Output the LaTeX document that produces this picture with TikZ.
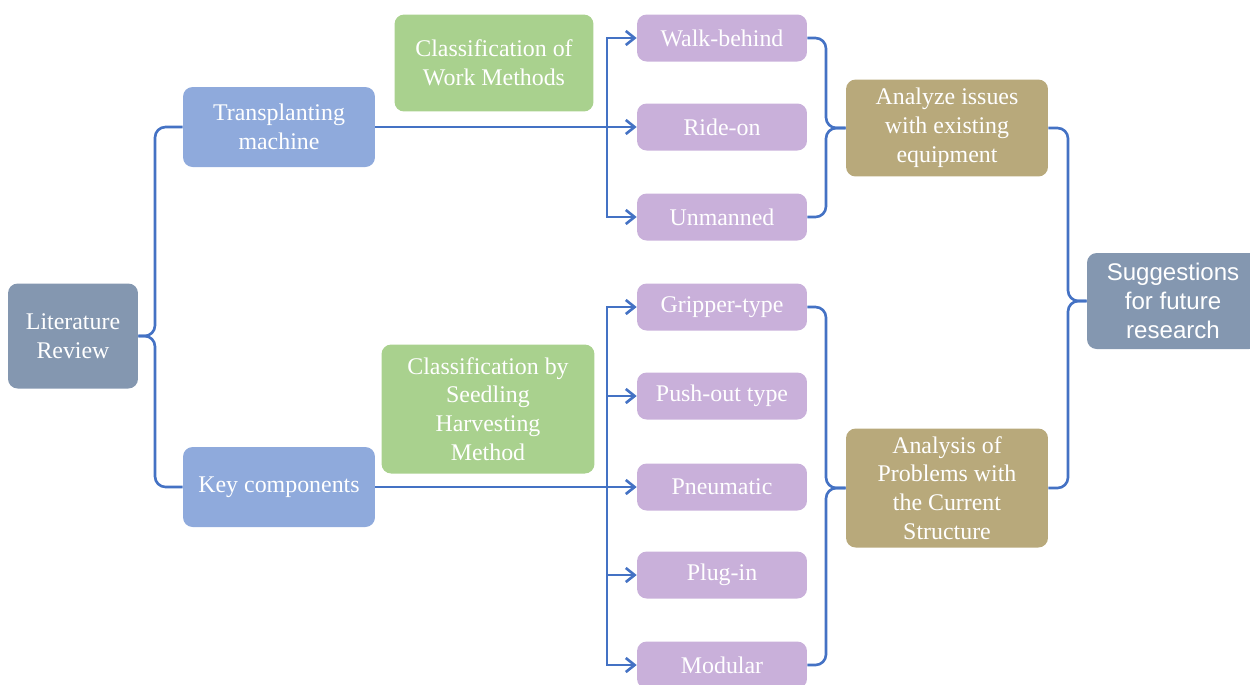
\documentclass[tikz,border=0pt]{standalone}
\usepackage{fontspec}
\setmainfont{Liberation Serif}
\newfontfamily\arialfont{Liberation Sans}
\usetikzlibrary{arrows.meta}

\definecolor{slate}{HTML}{8497B0}
\definecolor{blueb}{HTML}{8FAADC}
\definecolor{greenb}{HTML}{A9D18E}
\definecolor{purpb}{HTML}{C9B0DA}
\definecolor{khaki}{HTML}{B8A97B}
\definecolor{linec}{HTML}{4472C4}

\begin{document}
\begin{tikzpicture}[x=0.02cm, y=-0.02cm,
    box/.style={rounded corners=5.5pt, text=white, align=center, inner sep=2pt,
        font=\fontsize{13.6}{16.4}\selectfont},
    lit/.style={box, fill=slate, minimum width=2.6cm, minimum height=2.1cm},
    topic/.style={box, fill=blueb, minimum width=3.84cm, minimum height=1.6cm},
    cls/.style={box, fill=greenb},
    kind/.style={box, fill=purpb, minimum width=3.4cm, minimum height=0.94cm},
    issue/.style={box, fill=khaki, minimum width=4.04cm},
    link/.style={draw=linec, line width=1.5pt},
    arr/.style={link, -{Straight Barb[length=5pt, width=8pt]}},
    brace/.style={link, rounded corners=6pt}]
    \useasboundingbox (0,0) rectangle (1250,684);

    % 1. left column
    \node[lit] (lr) at (73,336) {Literature\\Review};
    \node[topic] (tm) at (279,127) {Transplanting\\machine};
    \node[topic] (kc) at (279,487) {Key components};

    % 2. classification labels
    \node[cls, minimum width=3.98cm, minimum height=1.94cm] (cwm) at (494,63) {Classification of\\Work Methods};
    \node[cls, minimum width=4.26cm, minimum height=2.58cm] (csh) at (488,409) {Classification by\\Seedling\\Harvesting\\Method};

    % 3. types
    \node[kind] (wb) at (722,38) {Walk-behind};
    \node[kind] (ro) at (722,127) {Ride-on};
    \node[kind] (um) at (722,217) {Unmanned};
    \node[kind] (gt) at (722,307) {Gripper-type};
    \node[kind] (po) at (722,396) {Push-out type};
    \node[kind] (pn) at (722,487) {Pneumatic};
    \node[kind] (pi) at (722,575) {Plug-in};
    \node[kind] (md) at (722,665) {Modular};

    % 4. analysis and suggestions
    \node[issue, minimum height=1.94cm] (ai) at (947,128) {Analyze issues\\with existing\\equipment};
    \node[issue, minimum height=2.38cm] (ap) at (947,488) {Analysis of\\Problems with\\the Current\\Structure};
    \node[box, fill=slate, minimum width=3.44cm, minimum height=1.92cm,
        font=\arialfont\fontsize{13.7}{16.7}\selectfont] (sf) at (1173,301) {Suggestions\\for future\\research};

    % 5. junction points
    \coordinate (b0) at (155,336);
    \coordinate (j1) at (607,127);
    \coordinate (j2) at (607,487);
    \coordinate (b1) at (826,128);
    \coordinate (b2) at (826,488);
    \coordinate (b3) at (1068,301);

    % 6. left brace
    \draw[brace] (lr.east) -- (b0) |- (tm.west);
    \draw[brace] (lr.east) -- (b0) |- (kc.west);

    % 7. arrows to the types
    \draw[arr] (tm.east) -- (ro.west);
    \draw[arr] (j1) |- (wb.west);
    \draw[arr] (j1) |- (um.west);
    \draw[arr] (kc.east) -- (pn.west);
    \foreach \t in {gt,po,pi,md}
        \draw[arr] (j2) |- (\t.west);

    % 8. right braces
    \draw[brace] (wb.east) -| (b1) -- (ai.west);
    \draw[brace] (um.east) -| (b1) -- (ai.west);
    \draw[brace] (gt.east) -| (b2) -- (ap.west);
    \draw[brace] (md.east) -| (b2) -- (ap.west);
    \draw[brace] (ai.east) -| (b3) -- (sf.west);
    \draw[brace] (ap.east) -| (b3) -- (sf.west);
\end{tikzpicture}
\end{document}
